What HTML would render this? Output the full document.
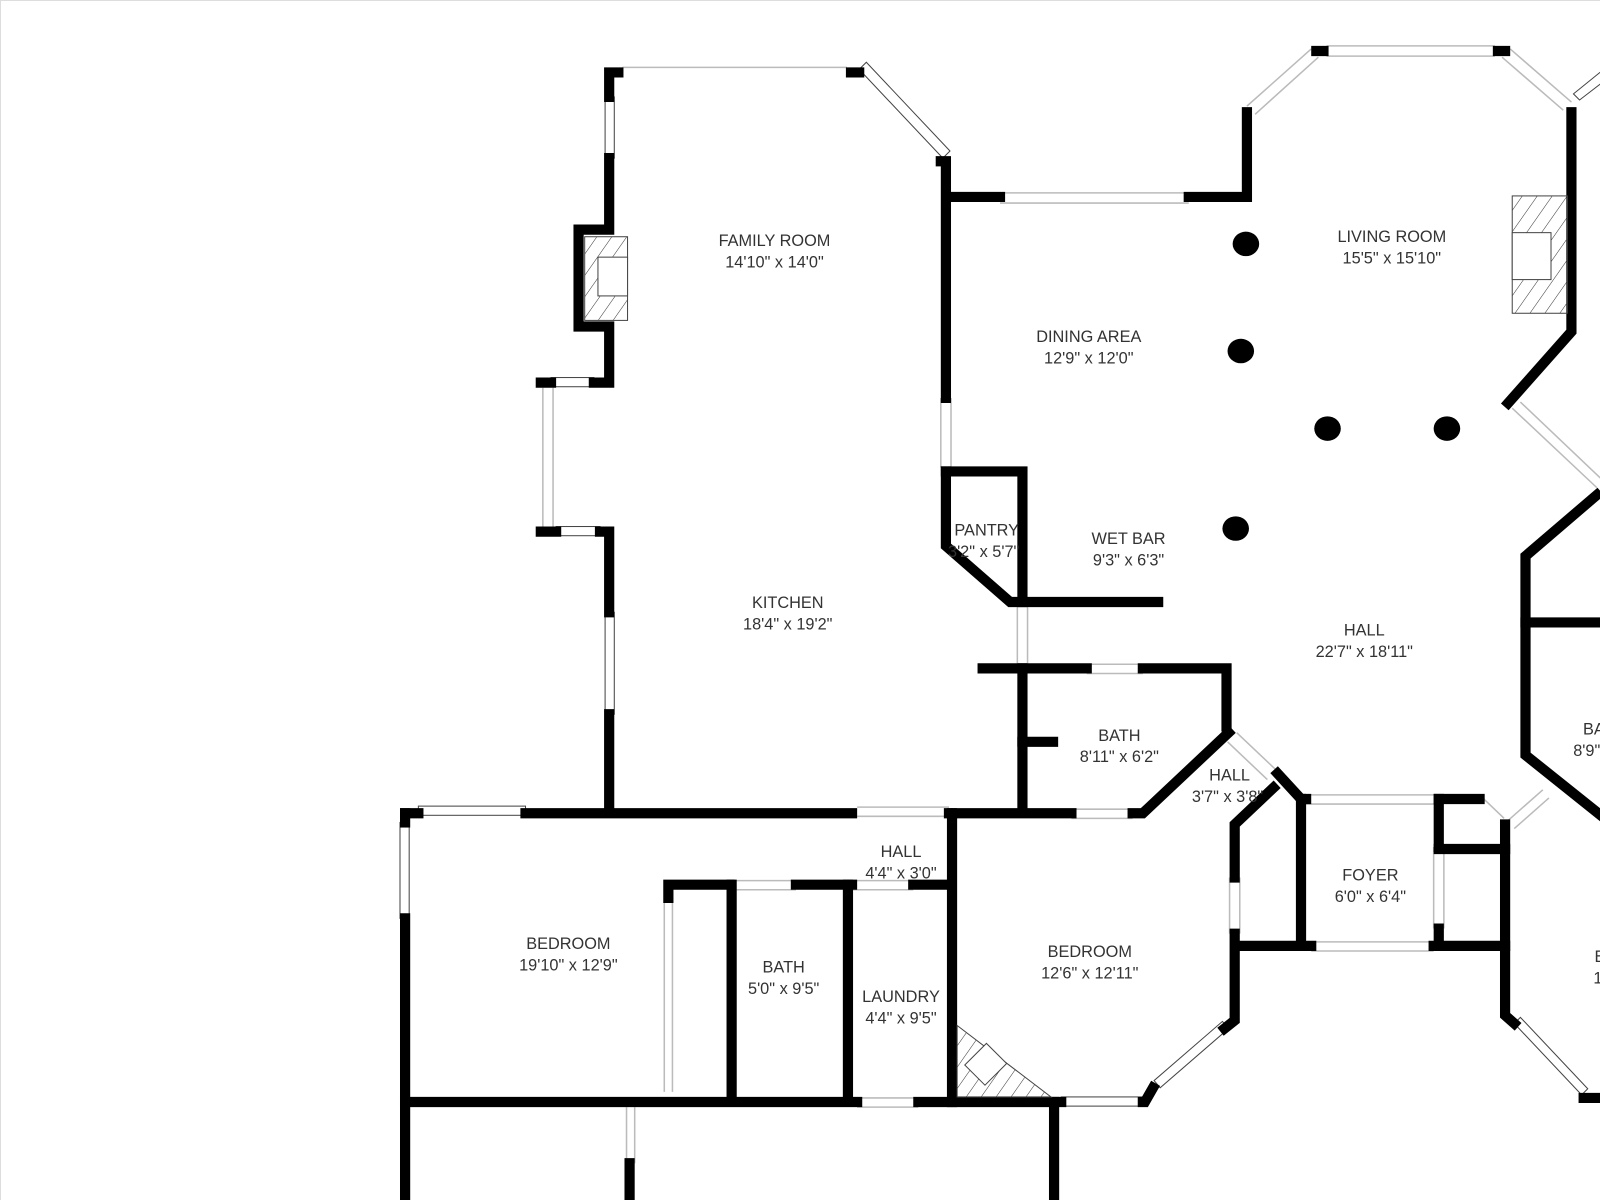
<!DOCTYPE html>
<html><head><meta charset="utf-8"><style>
html,body{margin:0;padding:0;background:#fff}
svg{display:block}
text{font-family:"Liberation Sans",sans-serif;font-size:16px;fill:#333;text-anchor:middle}
</style></head><body>
<svg width="1600" height="1200" viewBox="0 0 1600 1200" xmlns="http://www.w3.org/2000/svg">
<defs>
<pattern id="h" width="12" height="12" patternUnits="userSpaceOnUse" patternTransform="rotate(35)">
<line x1="0" y1="0" x2="0" y2="12" stroke="#333" stroke-width="1"/></pattern>
</defs>
<rect width="1600" height="1200" fill="#fff"/>
<line x1="0.5" y1="0" x2="0.5" y2="1200" stroke="#ddd"/>
<line x1="0" y1="0.5" x2="1600" y2="0.5" stroke="#ddd"/>
<g transform="scale(1.0204)">
<!-- windows (thin gray) -->
<g stroke="#bbb" stroke-width="1.5" fill="none">
<line x1="610" y1="66" x2="830" y2="66"/>
<line x1="980" y1="189" x2="1165" y2="189"/><line x1="980" y1="199" x2="1165" y2="199"/>
<line x1="1300" y1="45" x2="1465" y2="45"/><line x1="1300" y1="55" x2="1465" y2="55"/>
<line x1="1222" y1="104" x2="1285" y2="48"/><line x1="1230" y1="112" x2="1292" y2="56"/>
<line x1="1480" y1="48" x2="1540" y2="100"/><line x1="1472" y1="56" x2="1532" y2="108"/>
<line x1="1482" y1="400" x2="1565" y2="478"/><line x1="1490" y1="394" x2="1570" y2="470"/>
<line x1="532" y1="380" x2="532" y2="520"/><line x1="542" y1="380" x2="542" y2="520"/>
<line x1="922" y1="390" x2="922" y2="458"/><line x1="932" y1="390" x2="932" y2="458"/>
<line x1="997" y1="595" x2="997" y2="650"/><line x1="1007" y1="595" x2="1007" y2="650"/>
<line x1="1065" y1="651" x2="1120" y2="651"/><line x1="1065" y1="660" x2="1120" y2="660"/>
<line x1="1050" y1="793" x2="1110" y2="793"/><line x1="1050" y1="802" x2="1110" y2="802"/>
<line x1="1212" y1="718" x2="1250" y2="754"/><line x1="1203" y1="727" x2="1242" y2="764"/>
<line x1="1205" y1="860" x2="1205" y2="915"/><line x1="1215" y1="860" x2="1215" y2="915"/>
<line x1="1280" y1="779" x2="1410" y2="779"/><line x1="1280" y1="788" x2="1410" y2="788"/>
<line x1="1285" y1="923" x2="1405" y2="923"/><line x1="1285" y1="932" x2="1405" y2="932"/>
<line x1="1405" y1="830" x2="1405" y2="910"/><line x1="1415" y1="830" x2="1415" y2="910"/>
<line x1="1450" y1="779" x2="1474" y2="802"/>
<line x1="1478" y1="804" x2="1512" y2="774"/><line x1="1484" y1="812" x2="1518" y2="782"/>
<line x1="840" y1="791" x2="930" y2="791"/><line x1="840" y1="800" x2="930" y2="800"/>
<line x1="720" y1="863" x2="780" y2="863"/><line x1="720" y1="872" x2="780" y2="872"/>
<line x1="835" y1="863" x2="895" y2="863"/><line x1="835" y1="872" x2="895" y2="872"/>
<line x1="840" y1="1076" x2="900" y2="1076"/><line x1="840" y1="1085" x2="900" y2="1085"/>
<line x1="651" y1="880" x2="651" y2="1070"/><line x1="659" y1="880" x2="659" y2="1070"/>
<line x1="614" y1="1085" x2="614" y2="1140"/><line x1="622" y1="1085" x2="622" y2="1140"/>
</g>
<!-- framed windows -->
<g fill="#fff" stroke="#444" stroke-width="1">
<rect x="593" y="95" width="9" height="60"/>
<rect x="540" y="370" width="42" height="9"/>
<rect x="545" y="516" width="43" height="9"/>
<rect x="593" y="600" width="9" height="100"/>
<rect x="410" y="790" width="105" height="9"/>
<rect x="392" y="806" width="9" height="94"/>
<rect x="1040" y="1075" width="80" height="9"/>
<polygon points="842,68 849,61 931,148 924,155"/>
<polygon points="1137,1066 1131,1059 1198,1001 1204,1008"/>
<polygon points="1484,1003 1490,997 1556,1067 1550,1073"/>
<polygon points="1548,98 1542,92 1600,45 1600,58"/>
</g>

<!-- walls -->
<g stroke="#000" stroke-width="10" fill="none" stroke-linejoin="miter" stroke-linecap="square">
<polyline points="606,71 597,71 597,95"/>
<polyline points="597,155 597,225 567,225 567,320 597,320 597,375 582,375"/>
<line x1="530" y1="375" x2="540" y2="375"/>
<line x1="530" y1="521" x2="545" y2="521"/>
<polyline points="588,521 597,521 597,600"/>
<line x1="597" y1="700" x2="597" y2="790"/>
<polyline points="834,71 842,71"/>
<polyline points="922,158 927,158 927,390"/>
<polyline points="932,193 980,193"/>
<polyline points="1165,193 1222,193 1222,110"/>
<line x1="1290" y1="50" x2="1297" y2="50"/>
<line x1="1468" y1="50" x2="1475" y2="50"/>
<polyline points="1540,110 1540,325 1478,395"/>
<polyline points="1565,485 1495,545 1495,740 1570,800"/>
<line x1="1495" y1="610" x2="1600" y2="610"/>
<polyline points="927,462 1002,462 1002,590"/>
<polyline points="927,462 927,535 990,590 1135,590"/>
<polyline points="963,655 1065,655"/>
<polyline points="1120,655 1202,655 1202,712"/>
<line x1="1002" y1="655" x2="1002" y2="795"/>
<line x1="1002" y1="727" x2="1032" y2="727"/>
<polyline points="1204,718 1120,797 1110,797"/>
<line x1="1050" y1="797" x2="930" y2="797"/>
<line x1="835" y1="797" x2="515" y2="797"/>
<line x1="397" y1="797" x2="410" y2="797"/>
<polyline points="1252,758 1275,783 1280,783"/>
<line x1="1275" y1="783" x2="1275" y2="925"/>
<polyline points="1248,772 1210,808 1210,860"/>
<polyline points="1210,915 1210,1000 1200,1008"/>
<polyline points="1212,927 1285,927"/>
<polyline points="1405,927 1475,927"/>
<polyline points="1410,783 1450,783"/>
<polyline points="1410,783 1410,830"/>
<line x1="1410" y1="910" x2="1410" y2="925"/>
<line x1="1410" y1="832" x2="1475" y2="832"/>
<polyline points="1475,808 1475,995 1484,1003"/>
<line x1="1552" y1="1076" x2="1600" y2="1076"/>
<polyline points="1130,1066 1122,1080 1120,1080"/>
<line x1="933" y1="797" x2="933" y2="1080"/>
<line x1="397" y1="797" x2="397" y2="806"/>
<line x1="397" y1="900" x2="397" y2="1200"/>
<polyline points="655,880 655,867 715,867"/>
<line x1="780" y1="867" x2="835" y2="867"/>
<line x1="895" y1="867" x2="930" y2="867"/>
<line x1="717" y1="867" x2="717" y2="1078"/>
<line x1="831" y1="867" x2="831" y2="1078"/>
<line x1="397" y1="1080" x2="840" y2="1080"/>
<line x1="900" y1="1080" x2="1040" y2="1080"/>
<line x1="1033" y1="1080" x2="1033" y2="1200"/>
<line x1="617" y1="1140" x2="617" y2="1200"/>
</g>

<!-- fireplaces -->
<rect x="573" y="232" width="42" height="82" fill="url(#h)" stroke="#444"/>
<rect x="586" y="252" width="29" height="38" fill="#fff" stroke="#444"/>
<rect x="1482" y="192" width="54" height="115" fill="url(#h)" stroke="#444"/>
<rect x="1482" y="228" width="38" height="46" fill="#fff" stroke="#444"/>
<!-- stairs -->
<polygon points="938,1005 938,1075 1030,1075" fill="url(#h)" stroke="#444"/>
<rect x="952" y="1028" width="28" height="30" fill="#fff" stroke="#444" transform="rotate(45 966 1043)"/>

<!-- columns -->
<g fill="#000">
<ellipse cx="1221" cy="239" rx="13" ry="12"/>
<ellipse cx="1216" cy="344" rx="13" ry="12"/>
<ellipse cx="1301" cy="420" rx="13" ry="12"/>
<ellipse cx="1418" cy="420" rx="13" ry="12"/>
<ellipse cx="1211" cy="518" rx="13" ry="12"/>
</g>

<!-- labels -->
<text x="759" y="241">FAMILY ROOM</text><text x="759" y="262">14'10" x 14'0"</text>
<text x="1364" y="237">LIVING ROOM</text><text x="1364" y="258">15'5" x 15'10"</text>
<text x="1067" y="335">DINING AREA</text><text x="1067" y="356">12'9" x 12'0"</text>
<text x="967" y="525">PANTRY</text><text x="964" y="546">3'2" x 5'7"</text>
<text x="1106" y="533">WET BAR</text><text x="1106" y="554">9'3" x 6'3"</text>
<text x="772" y="596">KITCHEN</text><text x="772" y="617">18'4" x 19'2"</text>
<text x="1337" y="623">HALL</text><text x="1337" y="644">22'7" x 18'11"</text>
<text x="1097" y="726">BATH</text><text x="1097" y="747">8'11" x 6'2"</text>
<text x="1205" y="765">HALL</text><text x="1203" y="786">3'7" x 3'8"</text>
<text x="1562" y="720">BA</text><text x="1555" y="741">8'9"</text>
<text x="883" y="840">HALL</text><text x="883" y="861">4'4" x 3'0"</text>
<text x="1343" y="863">FOYER</text><text x="1343" y="884">6'0" x 6'4"</text>
<text x="557" y="930">BEDROOM</text><text x="557" y="951">19'10" x 12'9"</text>
<text x="768" y="953">BATH</text><text x="768" y="974">5'0" x 9'5"</text>
<text x="883" y="982">LAUNDRY</text><text x="883" y="1003">4'4" x 9'5"</text>
<text x="1068" y="938">BEDROOM</text><text x="1068" y="959">12'6" x 12'11"</text>
<text x="1568" y="943">B</text><text x="1566" y="964">1</text>
</g>
</svg>
</body></html>
